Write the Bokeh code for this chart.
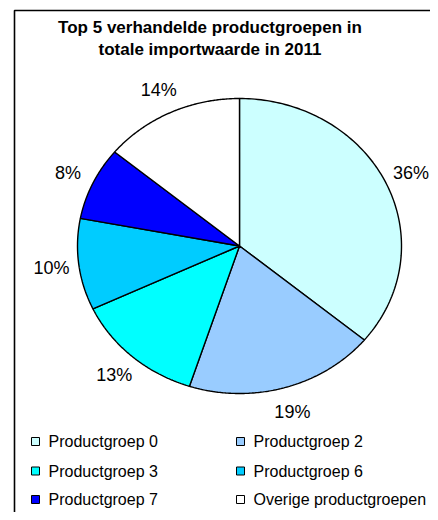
import numpy as np
from bokeh.plotting import figure
from bokeh.models import Range1d
from bokeh.core.properties import value
from bokeh.embed import file_html
from bokeh.resources import INLINE

# ---- data ----
categories = ["Productgroep 0", "Productgroep 2", "Productgroep 3",
              "Productgroep 6", "Productgroep 7", "Overige productgroepen"]
shares = [36, 19, 13, 10, 8, 14]
colors = ["#CCFFFF", "#99CCFF", "#00FFFF", "#00CCFF", "#0000FF", "#FFFFFF"]
title_lines = ["Top 5 verhandelde productgroepen in", "totale importwaarde in 2011"]

FONT = value("Liberation Sans")
W, H = 430, 512
p = figure(width=W, height=H, output_backend="svg", toolbar_location=None,
           x_range=Range1d(0, W), y_range=Range1d(H, 0),
           min_border=0, outline_line_color=None)
p.axis.visible = False
p.grid.visible = False
p.background_fill_color = "white"

# outer frame
p.quad(left=14, right=W + 20, top=10, bottom=H + 20, fill_color=None,
       line_color="black", line_width=1.6)

# pie (elliptical, drawn clockwise from the top)
cx, cy, rx, ry = 239, 245.5, 162, 147.5
vals = np.array(shares, dtype=float)
frac = vals / vals.sum()
cum = np.concatenate([[0], np.cumsum(frac)])
start = np.pi / 2 - 2 * np.pi * cum[:-1]
end = np.pi / 2 - 2 * np.pi * cum[1:]
xs, ys = [], []
for a0, a1 in zip(start, end):
    t = np.linspace(a0, a1, 120)
    xs.append(np.concatenate([[cx], cx + rx * np.cos(t)]).tolist())
    ys.append(np.concatenate([[cy], cy - ry * np.sin(t)]).tolist())
p.patches(xs=xs, ys=ys, fill_color=colors, line_color="black", line_width=1.4)

# percentage labels
mid = (start + end) / 2
lr = 1.17
labels = [f"{int(round(v))}%" for v in vals]
p.text(x=(cx + lr * rx * np.cos(mid)).tolist(), y=(cy - lr * ry * np.sin(mid)).tolist(),
       text=labels, text_font=FONT, text_font_size="18px", text_color="black",
       text_align="center", text_baseline="middle")

# title
p.text(x=[209.5, 209.5], y=[27, 49], text=title_lines, text_font=FONT,
       text_font_size="17px", text_font_style="bold", text_color="black",
       text_align="center", text_baseline="middle")

# legend (2 columns, 3 rows)
col_x = [35, 240]
row_y = [441, 470.5, 499]
lx = [col_x[i % 2] for i in range(len(categories))]
ly = [row_y[i // 2] for i in range(len(categories))]
p.scatter(x=lx, y=ly, marker="square", size=8, fill_color=colors,
          line_color="black", line_width=1)
p.text(x=[v + 13 for v in lx], y=ly, text=categories, text_font=FONT,
       text_font_size="16px", text_color="black", text_align="left",
       text_baseline="middle")

open("out.html", "w").write(file_html(p, INLINE))
